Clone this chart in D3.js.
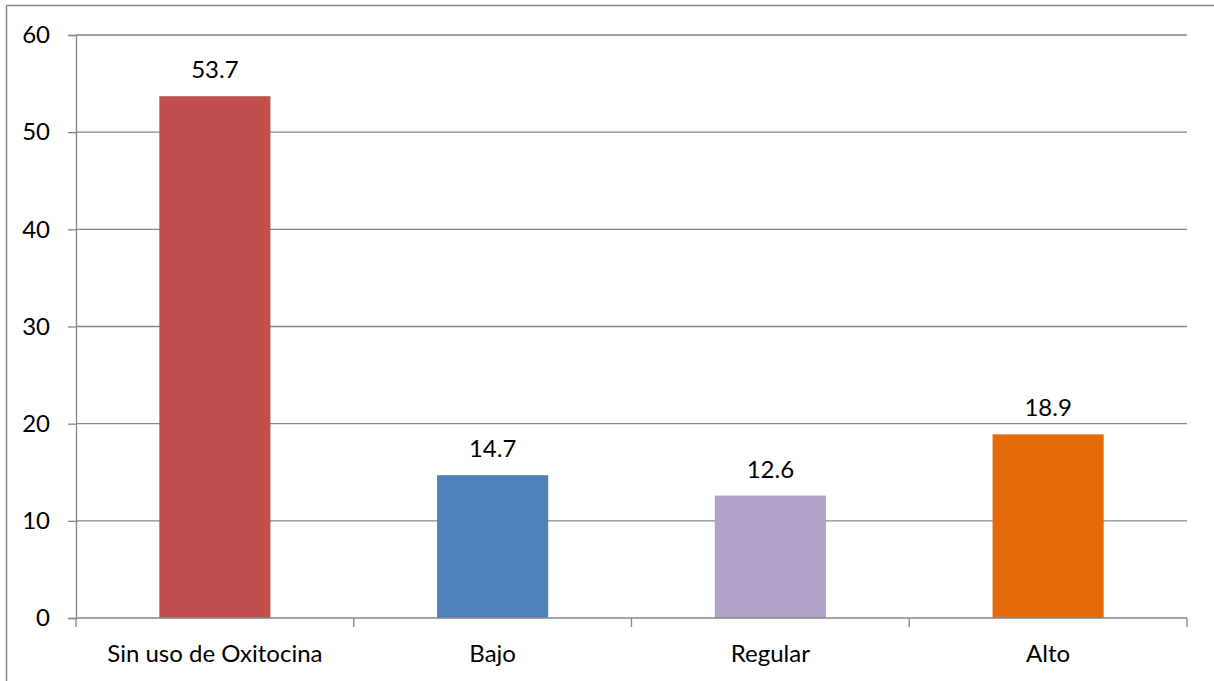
<!DOCTYPE html>
<html><head><meta charset="utf-8">
<script src="https://cdn.jsdelivr.net/npm/d3@7"></script>
<style>html,body{margin:0;padding:0;background:#fff;overflow:hidden}</style>
</head><body>
<svg id="c" width="1214" height="681"></svg>
<script>
const categories = ["Sin uso de Oxitocina", "Bajo", "Regular", "Alto"];
const values = [53.7, 14.7, 12.6, 18.9];
const colors = ["#C0504D", "#4F81BD", "#B1A2CA", "#E46C0A"];
const yTicks = [0, 10, 20, 30, 40, 50, 60];

const svg = d3.select("#c");
const font = "Lato, 'Open Sans', sans-serif";
const fs = 24;
const mLeft = 76, mRight = 1187, mTop = 35, mBottom = 618;

svg.append("rect").attr("x", 6.5).attr("y", 5.5).attr("width", 1240).attr("height", 700)
  .attr("fill", "none").attr("stroke", "#868686").attr("stroke-width", 1.5);

const x = d3.scaleBand().domain(categories).range([mLeft, mRight]).paddingInner(0.6).paddingOuter(0.3);
const y = d3.scaleLinear().domain([0, 60]).range([mBottom, mTop]);

svg.append("g").selectAll("line").data(yTicks.filter(d => d > 0)).join("line")
  .attr("x1", mLeft).attr("x2", mRight).attr("y1", d => y(d)).attr("y2", d => y(d))
  .attr("stroke", "#868686").attr("stroke-width", 1.3);

const ya = svg.append("g").attr("transform", `translate(${mLeft},0)`)
  .call(d3.axisLeft(y).tickValues(yTicks).tickSize(8).tickPadding(18).tickFormat(d3.format("d")));
ya.select(".domain").attr("stroke", "#868686").attr("stroke-width", 1.3);
ya.selectAll(".tick line").attr("stroke", "#868686").attr("stroke-width", 1.3);
ya.selectAll("text").attr("font-family", font).attr("font-size", fs).attr("fill", "#000");

svg.append("g").selectAll("rect").data(values).join("rect")
  .attr("x", (d, i) => x(categories[i])).attr("width", x.bandwidth())
  .attr("y", d => y(d)).attr("height", d => y(0) - y(d))
  .attr("fill", (d, i) => colors[i]);

svg.append("g").selectAll("text").data(values).join("text")
  .attr("x", (d, i) => x(categories[i]) + x.bandwidth() / 2)
  .attr("y", d => y(d) - 18)
  .attr("text-anchor", "middle").attr("font-family", font).attr("font-size", fs)
  .text(d => d3.format(".1f")(d));

const step = x.step();
const bounds = d3.range(categories.length + 1).map(i => mLeft + i * step);
svg.append("line").attr("x1", mLeft).attr("x2", mRight).attr("y1", mBottom).attr("y2", mBottom)
  .attr("stroke", "#868686").attr("stroke-width", 1.3);
svg.append("g").selectAll("line").data(bounds).join("line")
  .attr("x1", d => d).attr("x2", d => d).attr("y1", mBottom).attr("y2", mBottom + 9)
  .attr("stroke", "#868686").attr("stroke-width", 1.3);
svg.append("g").selectAll("text").data(categories).join("text")
  .attr("x", d => x(d) + x.bandwidth() / 2).attr("y", 662)
  .attr("text-anchor", "middle").attr("font-family", font).attr("font-size", fs)
  .text(d => d);
</script>
</body></html>
